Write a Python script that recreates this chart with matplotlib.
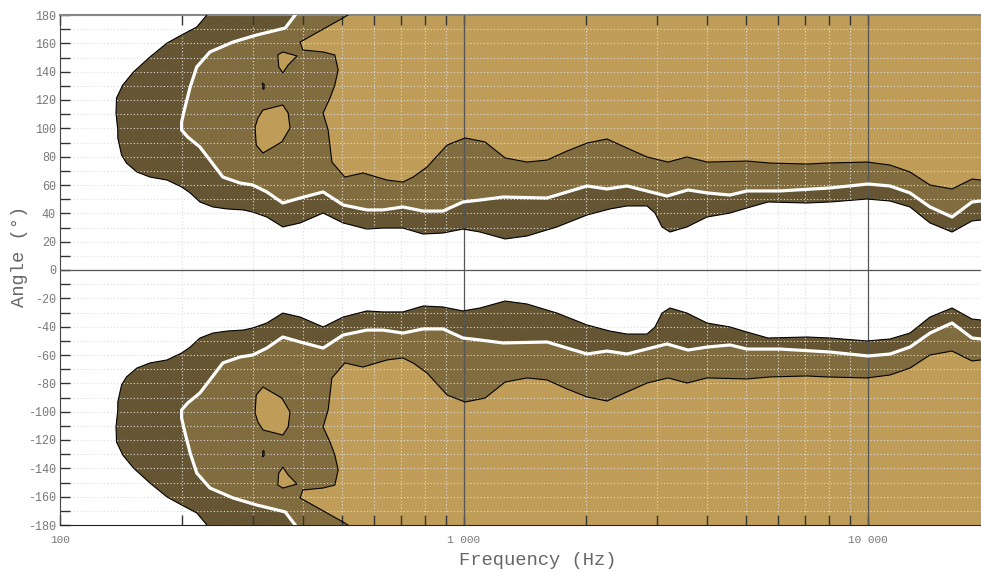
import numpy as np
import matplotlib.pyplot as plt
from matplotlib.ticker import FixedLocator, LogLocator, MultipleLocator, FuncFormatter, NullFormatter

plt.rcParams['font.family'] = ['Liberation Mono', 'DejaVu Sans Mono']
plt.rcParams['axes.unicode_minus'] = False

F_MIN, F_MAX = 100, 19040

# outer black contour (upper half, mirrored for the lower half)
outer_f = [231, 218, 200, 184, 167, 152, 143, 138, 137.6, 139, 139, 142, 146, 155, 167, 184,
           200, 210, 222, 239, 259, 284, 300, 325, 356, 393, 448, 502, 575, 630, 706, 792,
           887, 994, 1096, 1264, 1432, 1699, 2016, 2298, 2532, 2838, 2970, 3091, 3235, 3564,
           3995, 4554, 5018, 5656, 7063, 8053, 9943, 11336, 12703, 14237, 16142, 18088, 19040]
outer_a = [180, 171.5, 165.9, 160.2, 150.4, 139.8, 130.6, 121.4, 110.8, 98.8, 93.2, 81.2, 75.5,
           69.2, 65.6, 63.5, 58.6, 54.4, 48.0, 44.5, 43.1, 42.4, 40.9, 37.4, 30.4, 33.2, 40.2,
           33.2, 28.9, 29.6, 29.6, 25.4, 26.1, 28.9, 26.8, 21.9, 24.0, 30.4, 38.8, 43.1, 45.2,
           45.2, 40.2, 30.4, 26.8, 30.4, 37.4, 40.2, 43.8, 48.0, 47.3, 48.0, 50.1, 48.7, 44.5,
           33.2, 26.8, 34.6, 35.3]

# white contour
half_f = [382, 361, 307, 268, 235, 218, 210, 204, 200, 200, 207, 222, 235, 253, 279, 300, 325,
          356, 393, 448, 502, 575, 630, 706, 792, 887, 994, 1096, 1249, 1605, 2016, 2259, 2532,
          3180, 3585, 3995, 4554, 5018, 6055, 8053, 10000, 11336, 12703, 14237, 16142, 18088, 19040]
half_a = [180, 170.8, 165.9, 160.9, 153.9, 143.3, 129.2, 115.1, 104.5, 98.8, 93.9, 86.8, 77.6,
          65.6, 61.4, 60.0, 55.1, 47.3, 50.8, 55.1, 45.9, 42.4, 42.4, 44.5, 41.6, 41.6, 48.0,
          49.4, 51.5, 50.8, 59.3, 57.2, 59.3, 52.2, 56.5, 54.4, 52.9, 55.8, 55.8, 57.9, 60.7,
          59.3, 54.4, 44.5, 37.4, 48.0, 48.7]

# inner black contour
inner_f = [516, 502, 393, 399, 448, 479, 488, 479, 466, 448, 461, 471, 507, 562, 645, 706, 748,
           810, 908, 1006, 1127, 1264, 1432, 1605, 1799, 2016, 2259, 2532, 2838, 3199, 3564,
           3995, 5018, 5720, 7063, 7916, 9943, 11336, 12703, 14237, 16142, 18088, 19040]
inner_a = [180, 177.9, 160.9, 155.3, 153.9, 151.8, 141.2, 130.6, 121.4, 110.8, 98.8, 76.2, 65.6,
           68.5, 63.5, 62.1, 65.6, 72.7, 88.2, 93.2, 90.4, 79.1, 76.2, 77.6, 84.0, 89.6, 92.5,
           86.1, 79.8, 76.2, 79.8, 76.2, 76.9, 75.5, 74.8, 75.5, 76.2, 74.1, 69.2, 60.0, 57.2,
           64.2, 63.5]

# islands inside the medium zone
isl1_f = [318, 356, 367, 371, 354, 318, 306, 304, 309]
isl1_a = [112.9, 116.5, 110.8, 100.2, 90.4, 82.6, 88.2, 100.9, 107.3]
isl2_f = [346, 356, 386, 367, 356, 348]
isl2_a = [151.8, 153.9, 151.1, 144.7, 139.1, 143.3]
isl3_f = [317, 320, 320, 318]
isl3_a = [132.0, 131.0, 128.0, 127.5]

DARK = '#655532'
MID = '#806c3e'
TAN = '#bf9d58'

fig = plt.figure(figsize=(9.81, 5.72), dpi=100)
ax = fig.add_axes([60 / 981, 47 / 572, 921 / 981, 510 / 572])
ax.set_xscale('log')

for s in (1, -1):
    for fs, angs, col in [(outer_f, outer_a, DARK), (half_f, half_a, MID), (inner_f, inner_a, TAN)]:
        x = list(fs) + [F_MAX, fs[0]]
        y = [s * a for a in angs] + [s * 180, s * 180]
        ax.fill(x, y, color=col, lw=0, zorder=1)
    for fs, angs in [(isl1_f, isl1_a), (isl2_f, isl2_a), (isl3_f, isl3_a)]:
        ax.fill(fs, [s * a for a in angs], facecolor=TAN, edgecolor='black', lw=0.8, zorder=3)
    ax.plot(outer_f, [s * a for a in outer_a], color='black', lw=0.8, zorder=3)
    ax.plot(inner_f, [s * a for a in inner_a], color='black', lw=0.8, zorder=3)
    ax.plot(half_f, [s * a for a in half_a], color='white', lw=2.3, zorder=3.5)

ax.set_xlim(F_MIN, F_MAX)
ax.set_ylim(-180, 180)

ax.xaxis.set_major_locator(FixedLocator([100, 1000, 10000]))
ax.xaxis.set_minor_locator(LogLocator(base=10, subs=np.arange(2, 10)))
ax.xaxis.set_major_formatter(FuncFormatter(lambda v, p: format(int(round(v)), ',').replace(',', ' ')))
ax.xaxis.set_minor_formatter(NullFormatter())
ax.yaxis.set_major_locator(MultipleLocator(20))
ax.yaxis.set_minor_locator(MultipleLocator(10))

# grid
ax.grid(which='minor', axis='x', color='#dddddd', ls=(0, (1, 2)), lw=0.8)
ax.grid(which='both', axis='y', color='#dddddd', ls=(0, (1, 2)), lw=0.8)
for f in (1000, 10000):
    ax.axvline(f, color='#555555', lw=0.9, zorder=2.6)
ax.axhline(0, color='#555555', lw=0.9, zorder=2.6)

ax.tick_params(which='both', direction='in', top=True, right=False, length=7,
               width=1, color='#333333', labelcolor='#777777')
ax.tick_params(axis='y', which='major', labelsize=8.5, pad=3)
ax.tick_params(axis='x', which='major', labelsize=8, pad=7)

ax.spines['right'].set_visible(False)
ax.spines['top'].set_color('#888888')
ax.spines['top'].set_linewidth(1.5)
ax.spines['left'].set_color('#444444')
ax.spines['bottom'].set_color('#222222')

ax.set_xlabel('Frequency (Hz)', fontsize=13.5, color='#666666')
ax.set_ylabel('Angle (°)', fontsize=13.5, color='#666666')
ax.xaxis.set_label_coords(0.519, -0.052)
ax.yaxis.set_label_coords(-0.035, 0.527)

fig.savefig('out.png', dpi=100)
